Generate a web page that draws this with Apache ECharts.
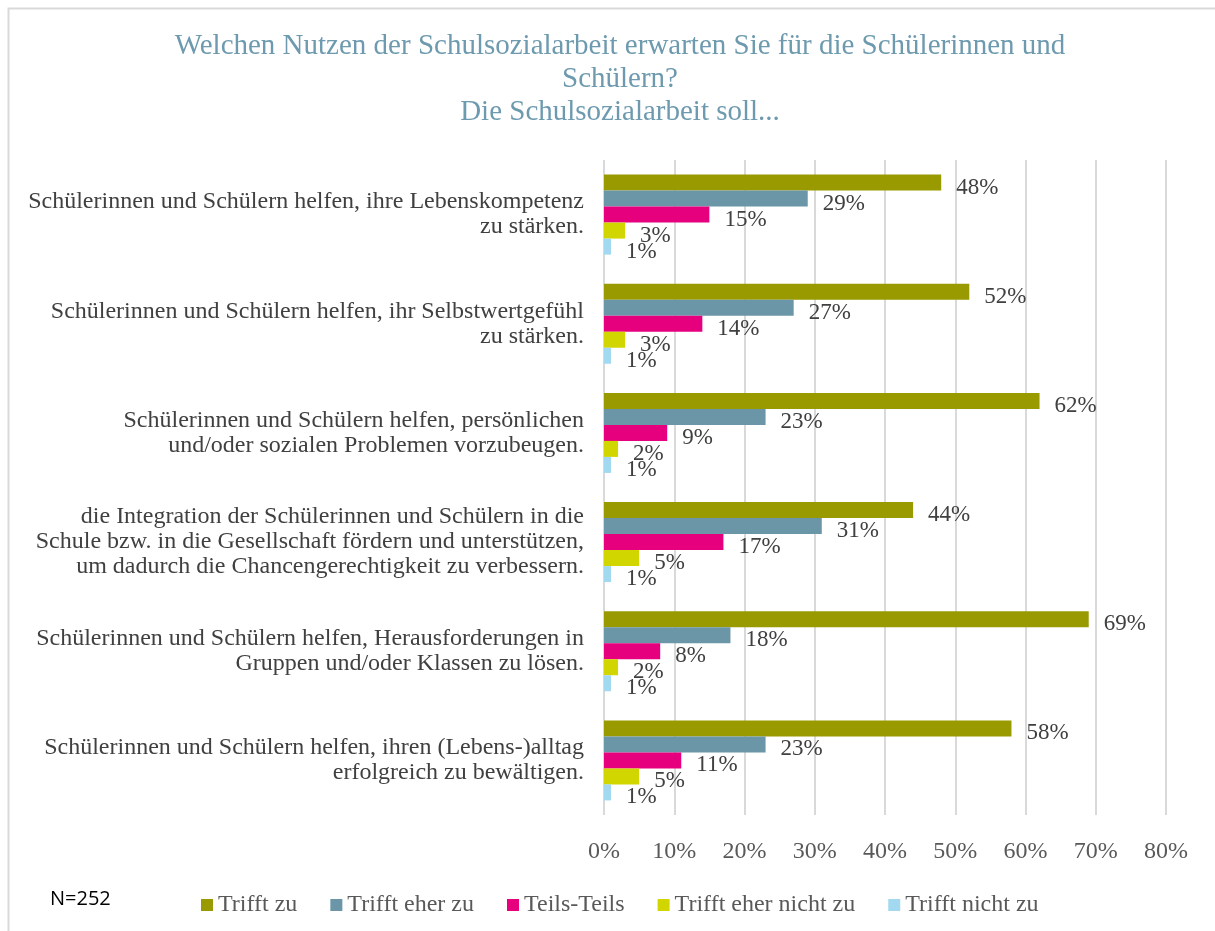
<!DOCTYPE html>
<html>
<head>
<meta charset="utf-8">
<script src="https://cdn.jsdelivr.net/npm/echarts@6/dist/echarts.min.js"></script>
<style>
  html, body { margin: 0; padding: 0; background: #fff; }
  #chart { width: 1215px; height: 931px; }
</style>
</head>
<body>
<div id="chart"></div>
<script>
  // Kategorien (von oben nach unten)
  var categories = [
    'Schülerinnen und Schülern helfen, ihre Lebenskompetenz\nzu stärken.',
    'Schülerinnen und Schülern helfen, ihr Selbstwertgefühl\nzu stärken.',
    'Schülerinnen und Schülern helfen, persönlichen\nund/oder sozialen Problemen vorzubeugen.',
    'die Integration der Schülerinnen und Schülern in die\nSchule bzw. in die Gesellschaft fördern und unterstützen,\num dadurch die Chancengerechtigkeit zu verbessern.',
    'Schülerinnen und Schülern helfen, Herausforderungen in\nGruppen und/oder Klassen zu lösen.',
    'Schülerinnen und Schülern helfen, ihren (Lebens-)alltag\nerfolgreich zu bewältigen.'
  ];
  var seriesNames = ['Trifft zu', 'Trifft eher zu', 'Teils-Teils', 'Trifft eher nicht zu', 'Trifft nicht zu'];
  var trifftZu = [48, 52, 62, 44, 69, 58];
  var trifftEherZu = [29, 27, 23, 31, 18, 23];
  var teilsTeils = [15, 14, 9, 17, 8, 11];
  var trifftEherNichtZu = [3, 3, 2, 5, 2, 5];
  var trifftNichtZu = [1, 1, 1, 1, 1, 1];
  var colors = ['#999900', '#6b96a8', '#e6007e', '#d2d600', '#a3d9f0'];

  var serif = '"Liberation Serif", "DejaVu Serif", serif';

  var chart = echarts.init(document.getElementById('chart'));

  // ein Balken-Serie pro Antwortkategorie
  function makeSeries(name, data, color) {
    return {
      name: name,
      type: 'bar',
      data: data,
      barWidth: 16,
      barGap: '0%',
      itemStyle: { color: color },
      label: {
        show: true,
        position: 'right',
        distance: 15,
        offset: [0, 5],
        formatter: '{c}%',
        fontFamily: serif,
        fontSize: 23,
        color: '#404040'
      }
    };
  }

  var option = {
    animation: false,
    title: {
      text: 'Welchen Nutzen der Schulsozialarbeit erwarten Sie für die Schülerinnen und\nSchülern?\nDie Schulsozialarbeit soll...',
      left: 615,
      textAlign: 'center',
      top: 25,
      textStyle: {
        fontFamily: serif,
        fontSize: 29,
        fontWeight: 'normal',
        color: '#6d9aae',
        lineHeight: 33
      }
    },
    legend: {
      data: seriesNames,
      left: 196,
      top: 888,
      itemWidth: 12,
      itemHeight: 12,
      itemGap: 33,
      icon: 'rect',
      textStyle: {
        fontFamily: serif,
        fontSize: 24,
        color: '#595959'
      }
    },
    grid: {
      left: 604,
      right: 49,
      top: 160,
      bottom: 116
    },
    xAxis: {
      type: 'value',
      min: 0,
      max: 80,
      interval: 10,
      axisLine: { show: false },
      axisTick: { show: false },
      splitLine: { lineStyle: { color: '#d9d9d9', width: 2 } },
      axisLabel: {
        formatter: '{value}%',
        margin: 25,
        fontFamily: serif,
        fontSize: 24,
        color: '#595959'
      }
    },
    yAxis: {
      type: 'category',
      data: categories,
      inverse: true,
      axisLine: { show: false },
      axisTick: { show: false },
      axisLabel: {
        margin: 20,
        fontFamily: serif,
        fontSize: 24,
        lineHeight: 25,
        color: '#404040',
        align: 'right'
      }
    },
    graphic: [
      {
        type: 'rect',
        shape: { x: 8.5, y: 8.5, width: 1250, height: 1000 },
        style: { fill: 'none', stroke: '#d9d9d9', lineWidth: 2 },
        silent: true
      },
      {
        type: 'text',
        left: 50,
        top: 889,
        style: {
          text: 'N=252',
          font: '20px "Open Sans", "Noto Sans", sans-serif',
          fill: '#000'
        }
      }
    ],
    series: [
      makeSeries(seriesNames[0], trifftZu, colors[0]),
      makeSeries(seriesNames[1], trifftEherZu, colors[1]),
      makeSeries(seriesNames[2], teilsTeils, colors[2]),
      makeSeries(seriesNames[3], trifftEherNichtZu, colors[3]),
      makeSeries(seriesNames[4], trifftNichtZu, colors[4])
    ]
  };

  chart.setOption(option);
</script>
</body>
</html>
